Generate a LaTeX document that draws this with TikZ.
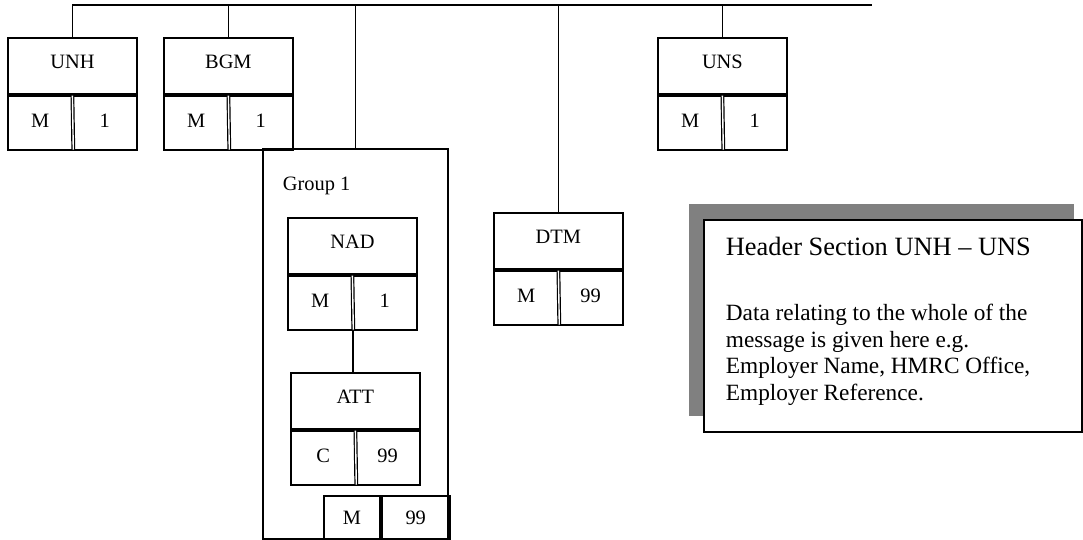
\documentclass[tikz,border=0pt]{standalone}
\usepackage{fontspec}
\setmainfont{Liberation Serif}
\usetikzlibrary{positioning}
\definecolor{shadowgray}{RGB}{128,128,128}
\newcommand{\segfont}{\fontsize{20.4pt}{24pt}\selectfont}
\newcommand{\headfont}{\fontsize{26.4pt}{30pt}\selectfont}
\newcommand{\bodyfont}{\fontsize{23.3pt}{26.8pt}\selectfont}

\begin{document}
\begin{tikzpicture}[x=1pt, y=-1pt, line width=1.8pt, font=\segfont,
  seghead/.style={draw, minimum width=129pt, minimum height=56pt, inner sep=0pt,
    text height=13.5pt, text depth=7.5pt},
  segcell/.style={draw, minimum width=64.5pt, minimum height=54pt, inner sep=0pt,
    text height=13.5pt, text depth=3.5pt},
  segsplit/.style={double, double distance=1.4pt, line width=1.2pt,
    shorten <=0.9pt, shorten >=0.9pt},
  cntcell/.style={draw, minimum height=43pt, inner sep=0pt,
    text height=13.5pt, text depth=0pt}]

  \useasboundingbox (0,0) rectangle (1083,540);

  %% segment box: name, left, top, tag, status, repeat
  \newcommand\Seg[6]{%
    \node[seghead, anchor=north west] (#1) at (#2,#3) {#4};
    \node[segcell, anchor=north west] (#1-st) at (#1.south west) {#5};
    \node[segcell, anchor=north east] (#1-rp) at (#1.south east) {#6};
    \draw[segsplit] (#1.south) -- (#1-st.south east);
  }

  \Seg{unh}{7}{37}{UNH}{M}{1}
  \Seg{bgm}{163}{37}{BGM}{M}{1}
  \Seg{uns}{657}{37}{UNS}{M}{1}
  \Seg{dtm}{493}{212}{DTM}{M}{99}

  %% group 1
  \node[draw, minimum width=185pt, minimum height=390pt, inner sep=0pt,
    anchor=north west] (grp1) at (262,148) {};
  \node[anchor=base west, inner sep=0pt] (grp1-lbl) at (282,190) {Group 1};
  \Seg{nad}{287}{217}{NAD}{M}{1}
  \Seg{att}{290}{372}{ATT}{C}{99}
  \node[cntcell, minimum width=56pt, anchor=north west] (grp1-st) at (323,495) {M};
  \node[cntcell, minimum width=68pt, anchor=north west] (grp1-rp) at (grp1-st.north east) {99};
  \draw (nad-st.south east) -- (nad-st.south east |- att.north); %% NAD->ATT

  %% top bar
  \coordinate (bus-w) at (unh.north |- 0,5);
  \coordinate (bus-e) at (872,5);
  \draw (bus-w) -- (bus-e);
  \foreach \s in {unh,bgm,grp1,dtm,uns}
    \draw (\s.north) -- (\s.north |- bus-w);

  %% note
  \node[fill=shadowgray, minimum width=385pt, minimum height=212pt, inner sep=0pt,
    anchor=north west] (note-shadow) at (688,203) {};
  \node[draw, fill=white, line width=2pt, minimum width=378pt, minimum height=212pt,
    inner sep=0pt, anchor=north west] (note) at (703,219) {};
  \node[anchor=base west, inner sep=0pt, font=\headfont] (note-head) at (725,255)
    {Header Section UNH – UNS};
  \node[anchor=north west, inner sep=0pt, align=left, font=\bodyfont] (note-body) at (725,303)
    {Data relating to the whole of the\\ message is given here e.g.\\
     Employer Name, HMRC Office,\\ Employer Reference.};
\end{tikzpicture}
\end{document}
